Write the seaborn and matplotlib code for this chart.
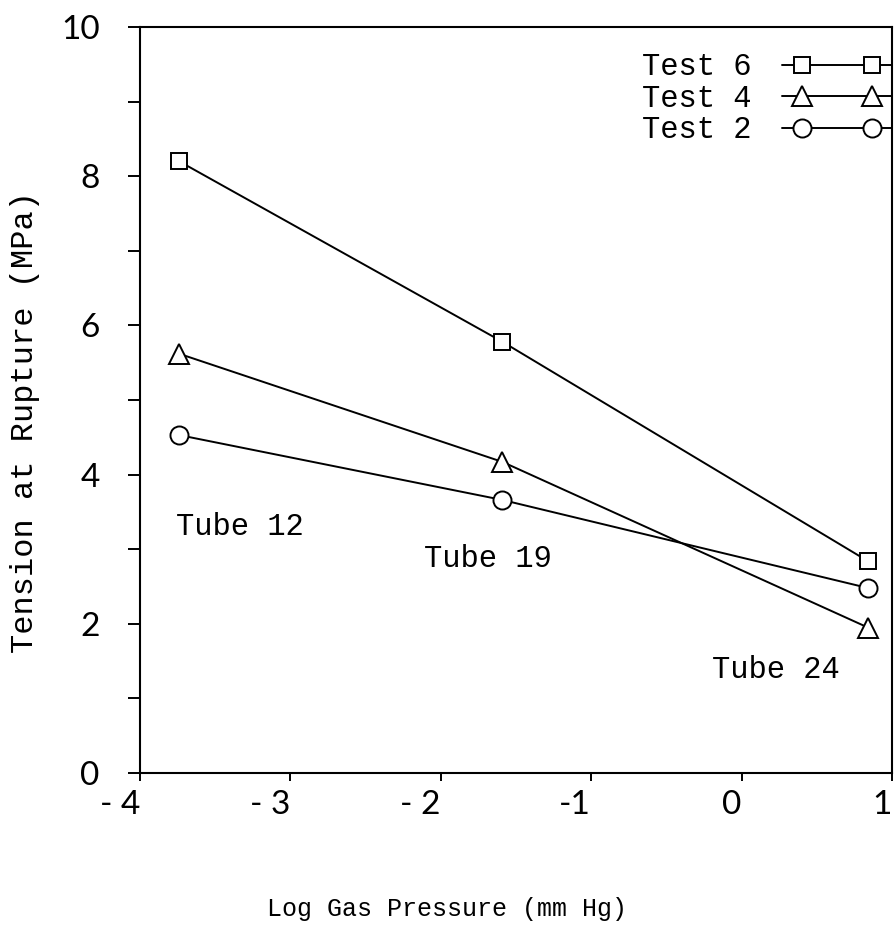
import matplotlib
matplotlib.use("Agg")
import matplotlib.pyplot as plt
import matplotlib.transforms as mtransforms
from matplotlib.legend_handler import HandlerLine2D
from matplotlib.ticker import MultipleLocator
import pandas as pd
import seaborn as sns

sns.set_style("ticks")
plt.rcParams["font.family"] = ["Liberation Mono", "DejaVu Sans"]
plt.rcParams["text.color"] = "black"
plt.rcParams["axes.labelcolor"] = "black"

# values
log_pressure = [-3.74, -1.59, 0.84]
test6 = [8.2, 5.78, 2.84]
test4 = [5.62, 4.17, 1.95]
test2 = [4.53, 3.66, 2.48]
series_names = ["Test 6", "Test 4", "Test 2"]
series_markers = ["s", "^", "o"]
tube_labels = ["Tube 12", "Tube 19", "Tube 24"]
xtick_values = [-4, -3, -2, -1, 0, 1]
xtick_labels = ["- 4", "- 3", "- 2", "-1", "0", "1"]
ytick_values = [0, 2, 4, 6, 8, 10]

df = pd.DataFrame({
    "log_p": log_pressure * 3,
    "tension": test6 + test4 + test2,
    "test": [n for n in series_names for _ in log_pressure],
})


class SpreadHandler(HandlerLine2D):
    # legend line runs past the two markers, like the original
    def get_xdata(self, legend, xdescent, ydescent, width, height, fontsize):
        inset = 0.18 * width
        xs = [-xdescent, -xdescent + inset, -xdescent + width - inset, -xdescent + width]
        return xs, xs

    def create_artists(self, *args, **kwargs):
        arts = super().create_artists(*args, **kwargs)
        for a in arts:
            a.set_markevery([1, 2])
        return arts


fig = plt.figure(figsize=(8.95, 9.3), dpi=100)
ax = fig.add_axes([140 / 895, 1 - 773 / 930, 752 / 895, 746 / 930])

msizes = {"s": 12, "^": 15, "o": 13}
for name, mk in zip(series_names, series_markers):
    sns.lineplot(
        data=df[df["test"] == name], x="log_p", y="tension",
        color="black", linewidth=1.4, marker=mk, markersize=msizes[mk],
        markerfacecolor="white", markeredgecolor="black", markeredgewidth=1.4,
        label=name, ax=ax,
    )

ax.set_xlim(-4, 1)
ax.set_ylim(0, 10)
ax.set_xticks(xtick_values)
ax.set_xticklabels(xtick_labels)
ax.set_yticks(ytick_values)
ax.yaxis.set_minor_locator(MultipleLocator(1))

for lab in ax.get_xticklabels() + ax.get_yticklabels():
    lab.set_fontfamily("Lato")
    lab.set_fontweight("normal")
    lab.set_fontsize(24)
    lab.set_color("black")
for lab in ax.get_xticklabels():
    lab.set_horizontalalignment("right")
    lab.set_transform(lab.get_transform()
                      + mtransforms.ScaledTranslation(9 / 100, 0, fig.dpi_scale_trans))

ax.tick_params(axis="y", which="both", direction="out", length=9, width=1.4, pad=20,
               color="black", labelcolor="black")
ax.tick_params(axis="x", which="both", direction="out", length=6, width=1.4, pad=6,
               color="black", labelcolor="black")
for sp in ax.spines.values():
    sp.set_visible(True)
    sp.set_linewidth(1.5)
    sp.set_color("black")

ax.set_xlabel("Log Gas Pressure (mm Hg)", fontsize=18)
ax.set_ylabel("Tension at Rupture (MPa)", fontsize=23)
ax.xaxis.set_label_coords(0.408, -0.166)
ax.yaxis.set_label_coords(-0.133, 0.47)

for txt, (tx, ty) in zip(tube_labels, [(-3.76, 3.3), (-2.11, 2.87), (-0.2, 1.38)]):
    ax.text(tx, ty, txt, fontsize=22, ha="left", va="center")

handles, labels = ax.get_legend_handles_labels()
ax.legend(
    handles, labels, loc="upper right", bbox_to_anchor=(1.0, 0.966),
    frameon=False, fontsize=22, numpoints=2, markerfirst=False,
    handlelength=3.6, handletextpad=1.0, labelspacing=0.05,
    borderpad=0, borderaxespad=0,
    handler_map={h: SpreadHandler() for h in handles},
)

fig.savefig("out.png", dpi=100, facecolor="white")
